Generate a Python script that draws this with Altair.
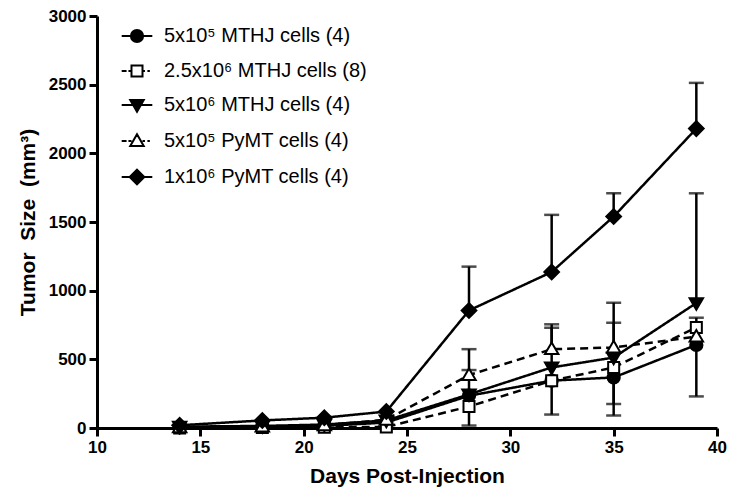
import altair as alt
import pandas as pd

# ---- data ----
days = [14, 18, 21, 24, 28, 32, 35, 39]
series_names = [
    "5x10⁵ MTHJ cells (4)",
    "2.5x10⁶ MTHJ cells (8)",
    "5x10⁶ MTHJ cells (4)",
    "5x10⁵ PyMT cells (4)",
    "1x10⁶ PyMT cells (4)",
]
mthj_5e5 = [5, 10, 15, 40, 235, 345, 368, 605]
mthj_25e6 = [0, 3, 5, 8, 156, 344, 441, 732]
mthj_5e6 = [10, 15, 25, 55, 245, 441, 513, 910]
pymt_5e5 = [5, 10, 20, 60, 385, 574, 586, 665]
pymt_1e6 = [20, 55, 75, 120, 856, 1136, 1540, 2180]

# error-bar end values (None = no bar visible)
err_mthj_5e5 = [None, None, None, None, None, None, 175, 230]
err_mthj_25e6 = [None, None, None, None, 18, 98, 91, None]
err_mthj_5e6 = [None, None, None, None, 422, 730, 767, 1709]
err_pymt_5e5 = [None, None, None, None, 574, 755, 912, 803]
err_pymt_1e6 = [None, None, None, None, 1175, 1552, 1709, 2513]

values = [mthj_5e5, mthj_25e6, mthj_5e6, pymt_5e5, pymt_1e6]
errors = [err_mthj_5e5, err_mthj_25e6, err_mthj_5e6, err_pymt_5e5, err_pymt_1e6]

rows = []
for name, vals, errs in zip(series_names, values, errors):
    for d, v, e in zip(days, vals, errs):
        rows.append({"day": d, "size": v, "err": e, "series": name})
df = pd.DataFrame(rows)

# ---- styles ----
point_paths = [
    "M-1,0A1,1,0,1,0,1,0A1,1,0,1,0,-1,0Z",
    "M-0.9,-0.9H0.9V0.9H-0.9Z",
    "M-1.1,-0.8H1.1L0,1.1Z",
    "M0,-1.1L1.1,0.8H-1.1Z",
    "M0,-1.2L1.2,0L0,1.2L-1.2,0Z",
]
legend_paths = [
    "M-2.5,0H-1M1,0H2.5M-1,0A1,1,0,1,0,1,0A1,1,0,1,0,-1,0Z",
    "M-2.5,0H-1.7M-1.4,0H-0.9M0.9,0H1.3M1.7,0H2.1M-0.9,-0.9H0.9V0.9H-0.9Z",
    "M-2.5,0H2.5M-1.1,-0.8H1.1L0,1.1Z",
    "M-2.5,0H-1.7M-1.4,0H-0.9M0.9,0H1.3M1.7,0H2.1M0,-1.1L1.1,0.8H-1.1Z",
    "M-2.5,0H2.5M0,-1.2L1.2,0L0,1.2L-1.2,0Z",
]
fills = ["black", "white", "black", "white", "black"]
strokes = ["black"] * 5
dashes = [[1, 0], [8, 5], [1, 0], [8, 5], [1, 0]]

FONT = "Liberation Sans"

x_enc = alt.X("day:Q", scale=alt.Scale(domain=[10, 40], nice=False),
              axis=alt.Axis(values=[10, 15, 20, 25, 30, 35, 40], title="Days Post-Injection"))
y_enc = alt.Y("size:Q", scale=alt.Scale(domain=[0, 3000], nice=False),
              axis=alt.Axis(values=[0, 500, 1000, 1500, 2000, 2500, 3000], format="d",
                            title="Tumor\u00a0 Size\u00a0 (mm³)"))

base = alt.Chart(df)

lines = base.mark_line(color="black", strokeWidth=2.5).encode(
    x=x_enc, y=y_enc,
    detail="series:N",
    strokeDash=alt.StrokeDash("series:N", scale=alt.Scale(domain=series_names, range=dashes), legend=None),
)

err_rules = base.transform_filter("datum.err != null").mark_rule(color="black", strokeWidth=2.5).encode(
    x="day:Q", y="size:Q", y2="err:Q",
)

err_caps = base.transform_filter("datum.err != null").mark_tick(
    color="black", orient="horizontal", size=15, thickness=2.5
).encode(x="day:Q", y="err:Q")

points = base.mark_point(filled=False, color="black", stroke="black", strokeWidth=2, size=150, opacity=1).encode(
    x="day:Q", y="size:Q",
    shape=alt.Shape("series:N", scale=alt.Scale(domain=series_names, range=point_paths), legend=None),
    fill=alt.Fill("series:N", scale=alt.Scale(domain=series_names, range=fills), legend=None),
)

leg = alt.Legend(title=None, orient="none", legendX=30, legendY=10,
                 labelFont=FONT, labelFontSize=20, labelColor="black",
                 symbolSize=150, symbolStrokeWidth=2, symbolStrokeColor="black",
                 labelOffset=17, rowPadding=14, padding=0, labelLimit=400)

legend_layer = base.transform_filter("false").mark_point(
    filled=False, strokeWidth=2, size=150, opacity=1
).encode(
    x="day:Q", y="size:Q",
    shape=alt.Shape("series:N", scale=alt.Scale(domain=series_names, range=legend_paths), legend=leg),
    fill=alt.Fill("series:N", scale=alt.Scale(domain=series_names, range=fills), legend=leg),
    stroke=alt.Stroke("series:N", scale=alt.Scale(domain=series_names, range=strokes), legend=leg),
)

chart = alt.layer(lines, err_rules, err_caps, points, legend_layer).resolve_scale(
    shape="independent", fill="independent", stroke="independent"
).properties(
    width=620, height=412,
    autosize=alt.AutoSizeParams(type="none"),
    padding={"left": 89, "top": 8, "right": 11, "bottom": 60},
    background="white",
).configure_view(stroke=None).configure_axis(
    domainColor="black", domainWidth=3, tickColor="black", tickWidth=3, tickSize=8,
    labelFont=FONT, labelFontWeight="bold", labelFontSize=17, labelColor="black", labelPadding=3,
    labelFlush=False,
    titleFont=FONT, titleFontWeight="bold", titleFontSize=21, titleColor="black",
    grid=False,
).configure_axisY(titlePadding=10).configure_axisX(titlePadding=10)

chart.save("out.html", embed_options={"renderer": "svg", "actions": False})
